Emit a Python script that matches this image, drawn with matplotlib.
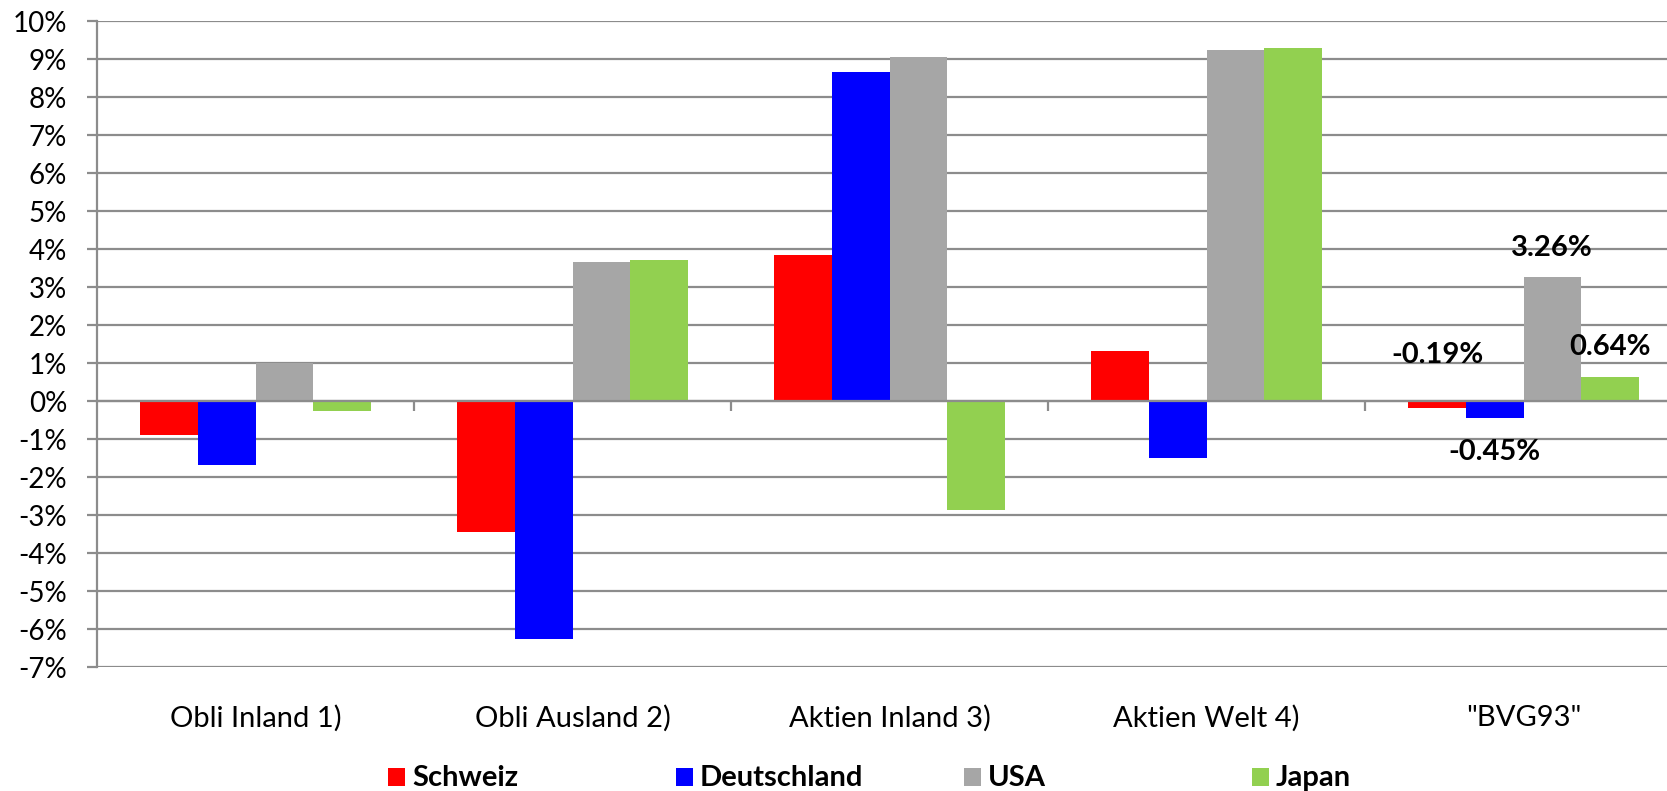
import matplotlib
matplotlib.use("Agg")
import matplotlib.pyplot as plt
from matplotlib.patches import Rectangle
from matplotlib.ticker import FuncFormatter
import matplotlib.transforms as mtransforms
import numpy as np

plt.rcParams['font.family'] = ['Lato', 'DejaVu Sans']

categories = ["Obli Inland 1)", "Obli Ausland 2)", "Aktien Inland 3)", "Aktien Welt 4)", "\"BVG93\""]
series_names = ["Schweiz", "Deutschland", "USA", "Japan"]
schweiz = [-0.90, -3.45, 3.83, 1.32, -0.19]
deutschland = [-1.69, -6.25, 8.66, -1.50, -0.45]
usa = [1.01, 3.65, 9.05, 9.25, 3.26]
japan = [-0.25, 3.70, -2.86, 9.30, 0.64]
colors = ["#FF0000", "#0000FF", "#A6A6A6", "#92D050"]
bvg_labels = ["-0.19%", "-0.45%", "3.26%", "0.64%"]

W, H = 1667, 791
fig = plt.figure(figsize=(W / 100, H / 100), dpi=100)
ax_left, ax_right, ax_top, ax_bot = 97, 97 + 5 * 317, 21, 667
ax = fig.add_axes([ax_left / W, 1 - ax_bot / H, (ax_right - ax_left) / W, (ax_bot - ax_top) / H])
ax.set_xlim(0, 5)
ax.set_ylim(-7, 10)

grid_col = "#8C8C8C"
for v in range(-7, 11):
    ax.axhline(v, color=grid_col, lw=1.6, zorder=1)

bw = 1 / 5.5
x = np.arange(len(categories))
data = [schweiz, deutschland, usa, japan]
for j, (vals, c, name) in enumerate(zip(data, colors, series_names)):
    pos = x + (0.75 + j + 0.5) / 5.5
    ax.bar(pos, vals, width=bw, color=c, label=name, zorder=2, linewidth=0)

# data labels on BVG93 group (label centre offsets in points)
i = 4
label_fs = 21
for j, vals in enumerate(data):
    xc = i + (0.75 + j + 0.5) / 5.5
    v = vals[i]
    if j == 0:
        anchor, dy = 0, 33
    elif j == 1:
        anchor, dy = v, -24.5
    elif j == 2:
        anchor, dy = v, 21
    else:
        anchor, dy = v, 21.5
    ax.annotate(bvg_labels[j], (xc, anchor), xytext=(0, dy), textcoords='offset points',
                ha='center', va='center', fontsize=label_fs, fontweight='bold', zorder=5)

# spines
for s in ["top", "right"]:
    ax.spines[s].set_visible(False)
ax.spines["left"].set_color(grid_col)
ax.spines["left"].set_linewidth(1.6)
ax.spines["bottom"].set_position(("data", 0))
ax.spines["bottom"].set_color(grid_col)
ax.spines["bottom"].set_linewidth(1.6)

ax.set_yticks(range(-7, 11))
ax.yaxis.set_major_formatter(FuncFormatter(lambda v, p: f"{int(v)}%"))
ax.tick_params(axis='y', length=7.5, width=1.6, color=grid_col, labelsize=20, pad=14)
ax.set_xticks([1, 2, 3, 4, 5])
ax.set_xticklabels([])
ax.tick_params(axis='x', length=7.5, width=1.6, color=grid_col, direction='out')

shift = mtransforms.ScaledTranslation(0, -38 / 100, fig.dpi_scale_trans)
for k, cat in enumerate(categories):
    ax.text(k + 0.5, -7, cat, transform=ax.transData + shift, ha='center', va='top', fontsize=21)

# legend (manual, evenly spaced like the original)
for j, (name, c) in enumerate(zip(series_names, colors)):
    x0 = 388 + 288 * j
    fig.patches.append(Rectangle((x0 / W, 1 - 786 / H), 17 / W, 18 / H, transform=fig.transFigure,
                                 facecolor=c, edgecolor='none'))
    fig.text((x0 + 24) / W, 1 - 786 / H, name, ha='left', va='baseline', fontsize=21, fontweight='bold')

fig.savefig("out.png", dpi=100)
